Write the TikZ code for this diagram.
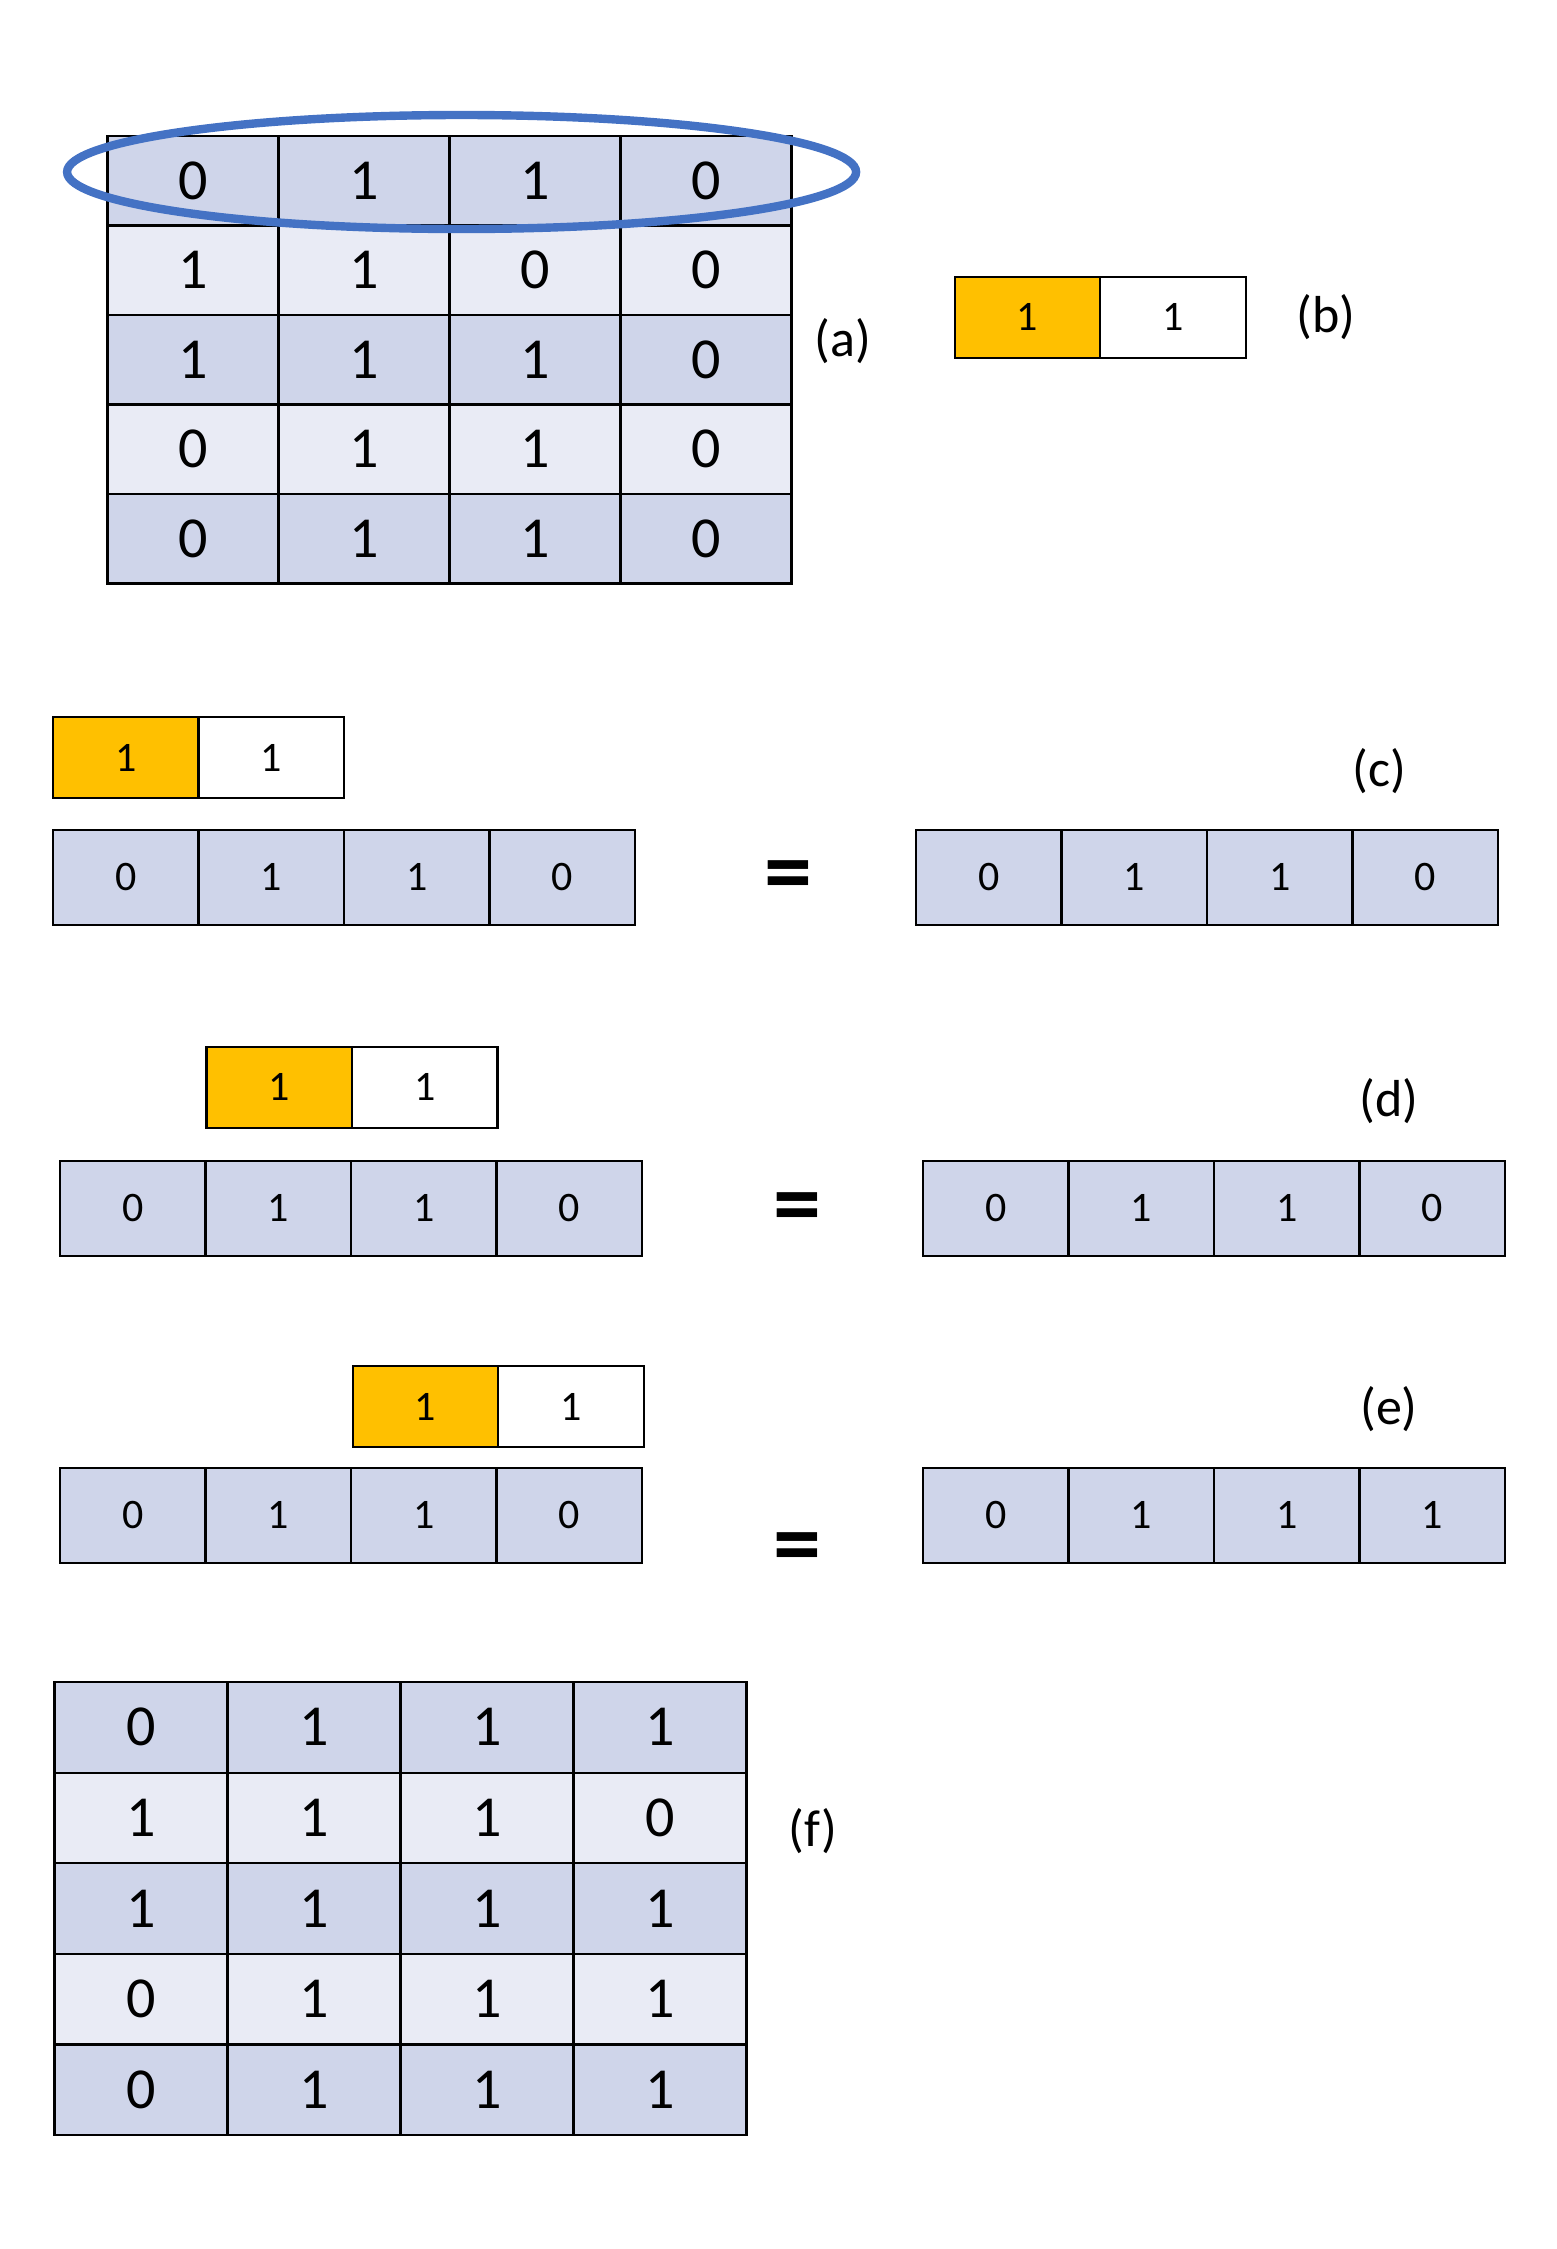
\documentclass[tikz,border=0pt]{standalone}
\usepackage{fontspec}
\setmainfont{Carlito}
\definecolor{rowdark}{HTML}{CFD5EA}
\definecolor{rowlight}{HTML}{E9EBF5}
\definecolor{kernelfill}{HTML}{FFC000}
\definecolor{ringblue}{HTML}{4472C4}

\begin{document}
\begin{tikzpicture}[x=0.5pt, y=-0.5pt,
  gridcell/.style={draw=black, line width=1.1pt, inner sep=0pt, minimum width=85.5pt, minimum height=44.75pt, font=\fontsize{29}{32}\selectfont},
  stripcell/.style={draw=black, line width=1.1pt, inner sep=0pt, minimum width=72.75pt, minimum height=47.3pt, fill=rowdark, font=\fontsize{21}{24}\selectfont},
  kernelcell/.style={draw=black, line width=1.1pt, inner sep=0pt, minimum width=72.75pt, minimum height=40.5pt, font=\fontsize{21}{24}\selectfont},
  tag/.style={font=\fontsize{26}{30}\selectfont},
  equals/.style={font=\fontsize{48}{52}\selectfont\bfseries}]
\useasboundingbox (0,0) rectangle (1557,2249);

% (a) input matrix
\foreach \row [count=\i] in {{0,1,1,0},{1,1,0,0},{1,1,1,0},{0,1,1,0},{0,1,1,0}} {
  \ifodd\i \def\rowfill{rowdark}\else\def\rowfill{rowlight}\fi
  \foreach \v [count=\j] in \row
    \node[gridcell, fill=\rowfill] (a\i\j) at ({193+171*(\j-1)}, {180.75+89.5*(\i-1)}) {\v};
}
\draw[ringblue, line width=4.2pt] (461.6,172) ellipse [x radius=394.5, y radius=57];
\node[tag] (taga) at (843,341) {(a)};

% kernels (b)-(e)
\foreach \nm/\x/\y in {kb/954.8/276.7, kc/53/717, kd/206.5/1046.6, ke/352.7/1366} {
  \node[kernelcell, fill=kernelfill] (\nm1) at ({\x+72.75}, {\y+40.5}) {1};
  \node[kernelcell, fill=white] (\nm2) at ({\x+218.25}, {\y+40.5}) {1};
}
\node[tag] (tagb) at (1326,317) {(b)};

% row strips (c)-(e)
\foreach \nm/\x/\y/\p/\q/\r/\s in {cl/53/830/0/1/1/0, cr/916/830/0/1/1/0,
    dl/60/1161/0/1/1/0, dr/923/1161/0/1/1/0,
    el/60/1468/0/1/1/0, er/923/1468/0/1/1/1} {
  \foreach \v [count=\j] in {\p,\q,\r,\s}
    \node[stripcell] (\nm\j) at ({\x+72.75+145.5*(\j-1)}, {\y+47.3}) {\v};
}
\node[equals] (eqc) at (788.5,882) {=};
\node[equals] (eqd) at (797,1214) {=};
\node[equals] (eqe) at (797,1554) {=};
\node[tag] (tagc) at (1379,771) {(c)};
\node[tag] (tagd) at (1389,1101) {(d)};
\node[tag] (tage) at (1389,1409) {(e)};

% (f) output matrix
\foreach \row [count=\i] in {{0,1,1,1},{1,1,1,0},{1,1,1,1},{0,1,1,1},{0,1,1,1}} {
  \ifodd\i \def\rowfill{rowdark}\else\def\rowfill{rowlight}\fi
  \foreach \v [count=\j] in \row
    \node[gridcell, fill=\rowfill, minimum width=86.5pt, minimum height=45.3pt] (f\i\j) at ({141+173*(\j-1)}, {1727.3+90.6*(\i-1)}) {\v};
}
\node[tag] (tagf) at (813,1831) {(f)};
\end{tikzpicture}
\end{document}
